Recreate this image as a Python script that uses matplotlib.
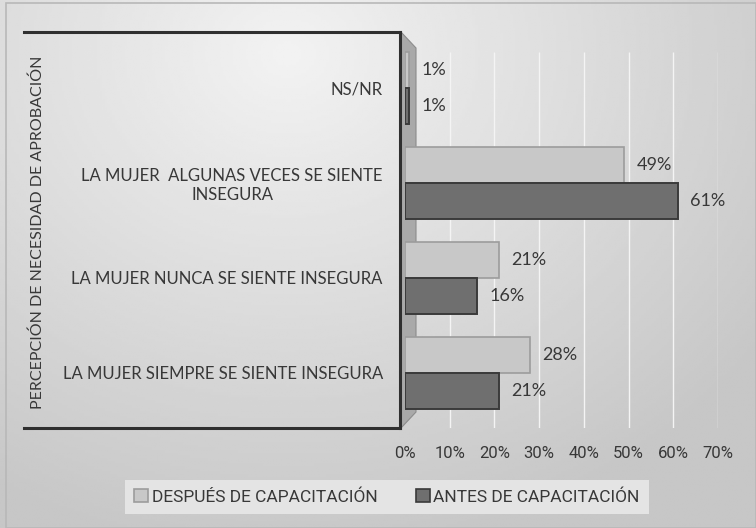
import numpy as np
import matplotlib
matplotlib.use('Agg')
from matplotlib import pyplot as plt
from matplotlib.lines import Line2D
from matplotlib.patches import Patch, Polygon

categories = ['LA MUJER SIEMPRE SE SIENTE INSEGURA',
              'LA MUJER NUNCA SE SIENTE INSEGURA',
              'LA MUJER  ALGUNAS VECES SE SIENTE\nINSEGURA',
              'NS/NR']
despues = [0.28, 0.21, 0.49, 0.01]
antes = [0.21, 0.16, 0.61, 0.01]
series_names = ['DESPUÉS DE CAPACITACIÓN', 'ANTES DE CAPACITACIÓN']
x_ticks = [0, 0.1, 0.2, 0.3, 0.4, 0.5, 0.6, 0.7]
y_title = 'PERCEPCIÓN DE NECESIDAD DE APROBACIÓN'

W, H = 756, 528
main_font = ['Lato', 'DejaVu Sans']
narrow_font = ['Liberation Sans Narrow', 'Roboto', 'DejaVu Sans']
text_color = '#383838'


def fx(px):
    return px / W


def fy(py):
    return 1 - py / H


fig = plt.figure(figsize=(W / 100, H / 100), dpi=100)

# background gradient
bg = fig.add_axes([0, 0, 1, 1], zorder=-10)
gx, gy = np.meshgrid(np.linspace(0, 1, 300), np.linspace(1, 0, 200))
dist = np.sqrt(((gx - 0.38) * 1.1) ** 2 + ((gy - 0.9) * 0.9) ** 2)
shade = np.clip(0.95 - 0.2 * dist, 0.78, 0.96)
bg.imshow(shade, cmap='gray', vmin=0, vmax=1, aspect='auto', extent=[0, 1, 0, 1])
bg.set_axis_off()
bg.add_patch(plt.Rectangle((fx(6), 0), 1 - fx(6), fy(3), fill=False, ec='#b8b8b8', lw=1.2))

# 3D wall behind the bars
wall = Polygon([[fx(401), fy(32)], [fx(416), fy(48)], [fx(416), fy(412)], [fx(401), fy(428)]],
               closed=True, transform=fig.transFigure, fc='#a9a9a9', ec='#8c8c8c', lw=0.8, zorder=1)
fig.add_artist(wall)

ax = fig.add_axes([fx(405), fy(428), fx(718) - fx(405), (428 - 32) / H], zorder=2)
ax.patch.set_alpha(0)
y = np.arange(len(categories))
h = 0.38

ax.vlines(x_ticks[1:], 0.0, 0.95, transform=ax.get_xaxis_transform(), colors='#f4f4f4', lw=1.0, zorder=0)
ax.barh(y + h / 2, despues, height=h, color='#c8c8c8', edgecolor='#9c9c9c', lw=1.2, zorder=3)
ax.barh(y - h / 2, antes, height=h, color='#6f6f6f', edgecolor='#3a3a3a', lw=1.4, zorder=3)

for i in range(len(categories)):
    ax.annotate(f'{despues[i]:.0%}', (despues[i], y[i] + h / 2), xytext=(9, 0), textcoords='offset points',
                va='center', ha='left', fontsize=13, color=text_color, family=main_font)
    ax.annotate(f'{antes[i]:.0%}', (antes[i], y[i] - h / 2), xytext=(9, 0), textcoords='offset points',
                va='center', ha='left', fontsize=13, color=text_color, family=main_font)

ax.set_xlim(0, 0.7)
ax.set_ylim(-0.58, 3.59)
ax.set_xticks(x_ticks)
ax.set_xticklabels([f'{t:.0%}' for t in x_ticks], fontsize=12, color=text_color, family=narrow_font)
ax.set_yticks(y)
ax.set_yticklabels(categories, fontsize=12, color=text_color, family=main_font, multialignment='center')
ax.tick_params(axis='x', length=0, pad=13)
ax.tick_params(axis='y', length=0, pad=16)
for s in ax.spines.values():
    s.set_visible(False)

# left label panel frame
for xs, ys in [([24, 400], [32, 32]), ([400, 400], [32, 428]), ([24, 400], [428, 428])]:
    fig.add_artist(Line2D([fx(v) for v in xs], [fy(v) for v in ys], transform=fig.transFigure,
                          color='#2f2f2f', lw=2.2, solid_capstyle='projecting'))

fig.text(fx(38), fy(232), y_title, rotation=90, ha='center', va='center',
         fontsize=11.5, color=text_color, family=main_font)

handles = [Patch(fc='#c8c8c8', ec='#9c9c9c', lw=1.2), Patch(fc='#6f6f6f', ec='#3a3a3a', lw=1.2)]
leg = fig.legend(handles, series_names, loc='center', bbox_to_anchor=(fx(387), fy(497)), ncol=2,
                 frameon=True, fancybox=False, facecolor='#e4e4e4', edgecolor='none', framealpha=1,
                 prop={'family': narrow_font, 'size': 12.5}, handlelength=0.8, handleheight=0.8,
                 handletextpad=0.2, columnspacing=2.2, borderpad=0.55)
for t in leg.get_texts():
    t.set_color(text_color)

fig.savefig('out.png', dpi=100)
